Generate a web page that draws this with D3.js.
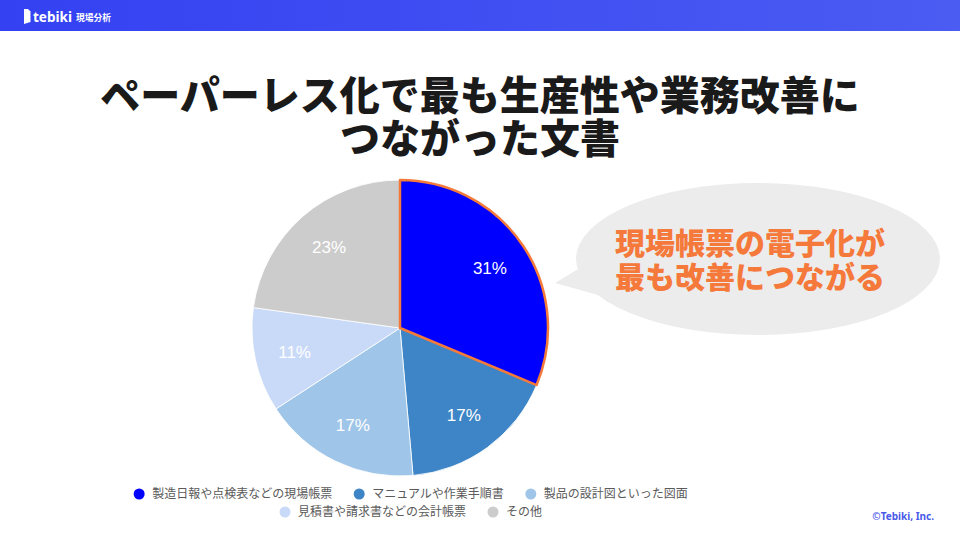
<!DOCTYPE html>
<html><head><meta charset="utf-8">
<script src="https://cdn.jsdelivr.net/npm/d3@7"></script>
<style>body{margin:0;background:#fff}svg{display:block}</style>
</head><body>
<svg id="c" width="960" height="540"></svg>
<script>
const categories = ["製造日報や点検表などの現場帳票","マニュアルや作業手順書","製品の設計図といった図面","見積書や請求書などの会計帳票","その他"];
const values = [31.3, 17.3, 17.2, 11.4, 22.8];
const labels = ["31%","17%","17%","11%","23%"];
const colors = ["#0000ff","#3d85c6","#9fc5e8","#c9daf8","#cccccc"];
const titleLines = ["ペーパーレス化で最も生産性や業務改善に","つながった文書"];
const calloutLines = ["現場帳票の電子化が","最も改善につながる"];

const svg = d3.select("#c");
const jp = "'Noto Sans CJK JP','Noto Sans',sans-serif";

// header
const grad = svg.append("defs").append("linearGradient").attr("id","hg").attr("x1","0").attr("x2","1");
grad.append("stop").attr("offset","0").attr("stop-color","#3441f2");
grad.append("stop").attr("offset","1").attr("stop-color","#4a5cf2");
svg.append("rect").attr("x",0).attr("y",0).attr("width",960).attr("height",31).attr("fill","url(#hg)");
svg.append("path").attr("d","M24 9 L28 9 L30.5 11.5 L30.5 22 L24 24 Z").attr("fill","#fff");
svg.append("text").attr("x",33).attr("y",22).attr("fill","#fff").attr("font-family","'Noto Sans',sans-serif").attr("font-weight",700).attr("font-size",15)
  .attr("textLength",39).attr("lengthAdjust","spacingAndGlyphs").text("tebiki");
svg.append("text").attr("x",76).attr("y",21).attr("fill","#fff").attr("font-family",jp).attr("font-weight",700).attr("font-size",9)
  .attr("textLength",35).attr("lengthAdjust","spacingAndGlyphs").text("現場分析");

// title
svg.append("g").selectAll("text").data(titleLines).join("text")
  .attr("x",480).attr("y",(d,i)=>110+i*43).attr("text-anchor","middle")
  .attr("font-family",jp).attr("font-weight",900).attr("font-size",40).attr("fill","#1a1a1a")
  .text(d=>d);

// callout bubble
svg.append("ellipse").attr("cx",758).attr("cy",259).attr("rx",182).attr("ry",76).attr("fill","#ececec");
svg.append("path").attr("d","M590 262 L555 283 L605 297 Z").attr("fill","#ececec");
svg.append("g").selectAll("text").data(calloutLines).join("text")
  .attr("x",750).attr("y",(d,i)=>254+i*34).attr("text-anchor","middle")
  .attr("font-family",jp).attr("font-weight",900).attr("font-size",30).attr("fill","#f5793a")
  .text(d=>d);

// pie
const cx=400, cy=328, R=148;
const pie = d3.pie().sort(null).value(d=>d)(values);
const arc = d3.arc().innerRadius(0).outerRadius(R);
const g = svg.append("g").attr("transform",`translate(${cx},${cy})`);
g.selectAll("path.s").data(pie).join("path").attr("class","s")
  .attr("d",arc).attr("fill",(d,i)=>colors[i]).attr("stroke","#fff").attr("stroke-width",0.8);
g.append("path").attr("d",arc(pie[0])).attr("fill","none").attr("stroke","#f47a3a").attr("stroke-width",2.5).attr("stroke-linejoin","round");
const la = d3.arc().innerRadius(108).outerRadius(108);
g.selectAll("text.l").data(pie).join("text").attr("class","l")
  .attr("transform",d=>`translate(${la.centroid(d)})`).attr("text-anchor","middle").attr("dy","0.36em")
  .attr("font-family","Arial,'Liberation Sans',sans-serif").attr("font-size",17).attr("fill","#fff")
  .text((d,i)=>labels[i]);

// legend
const rows=[[0,1,2],[3,4]];
const lg = svg.append("g").attr("font-family",jp).attr("font-size",12).attr("fill","#5a5a5a");
const rowY=[494,512];
rows.forEach((r,ri)=>{
  const items = r.map(i=>{
    const t = lg.append("text").text(categories[i]);
    const w = t.node().getComputedTextLength(); t.remove(); return {i,w};
  });
  const gap=22, mark=18;
  const total = d3.sum(items,d=>d.w+mark)+gap*(items.length-1);
  let x = 411 - total/2;
  items.forEach(it=>{
    lg.append("circle").attr("cx",x+5).attr("cy",rowY[ri]).attr("r",5.5).attr("fill",colors[it.i]);
    lg.append("text").attr("x",x+mark).attr("y",rowY[ri]).attr("dy","0.36em").text(categories[it.i]);
    x += mark+it.w+gap;
  });
});

svg.append("text").attr("x",934).attr("y",520).attr("text-anchor","end")
  .attr("font-family","'Noto Sans',sans-serif").attr("font-weight",700).attr("font-size",10).attr("fill","#4a5ae8").text("©Tebiki, Inc.");
</script>
</body></html>
